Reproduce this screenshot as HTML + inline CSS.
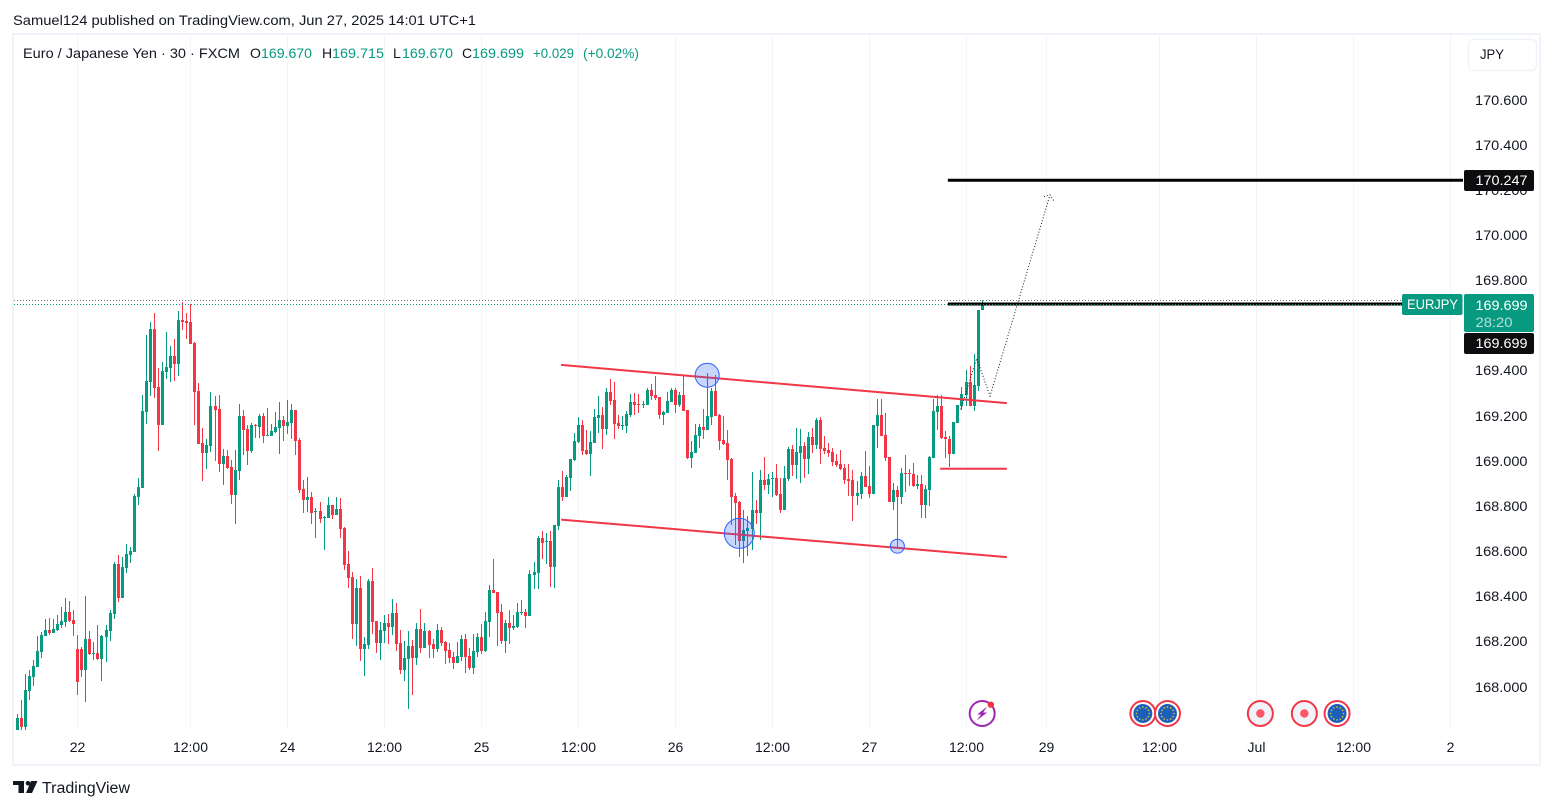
<!DOCTYPE html>
<html lang="en">
<head>
<meta charset="utf-8">
<title>EURJPY 30 chart</title>
<style>
html,body{margin:0;padding:0;background:#fff;width:1553px;height:809px;overflow:hidden}
svg{display:block;font-family:"Liberation Sans",sans-serif}
text{fill:#131722;font-size:14px}
</style>
</head>
<body>
<svg id="chart" xmlns="http://www.w3.org/2000/svg" width="1553" height="809" viewBox="0 0 1553 809">
  <defs><clipPath id="pane-clip"><rect x="14" y="35" width="1436" height="695"/></clipPath></defs>
  <rect x="0" y="0" width="1553" height="809" fill="#ffffff"/>
  <text x="13" y="25" textLength="463" lengthAdjust="spacingAndGlyphs">Samuel124 published on TradingView.com, Jun 27, 2025 14:01 UTC+1</text>
  <rect x="13" y="34" width="1527" height="731" fill="none" stroke="#f0f3fa" stroke-width="2"/>
  <line x1="1450.5" y1="35" x2="1450.5" y2="730" stroke="#f0f3fa" stroke-width="1"/>
  <g id="grid"></g>
  <g id="pane" clip-path="url(#pane-clip)"></g>
  <g id="time-axis"></g>
  <g id="price-axis"></g>
  <g>
    <text x="23" y="58" textLength="217" lengthAdjust="spacingAndGlyphs">Euro / Japanese Yen · 30 · FXCM</text>
    <text x="250" y="58">O</text>
    <text x="261" y="58" textLength="51" lengthAdjust="spacingAndGlyphs" style="fill:#089981">169.670</text>
    <text x="322" y="58">H</text>
    <text x="332" y="58" textLength="52" lengthAdjust="spacingAndGlyphs" style="fill:#089981">169.715</text>
    <text x="393" y="58">L</text>
    <text x="402" y="58" textLength="51" lengthAdjust="spacingAndGlyphs" style="fill:#089981">169.670</text>
    <text x="462" y="58">C</text>
    <text x="472" y="58" textLength="52" lengthAdjust="spacingAndGlyphs" style="fill:#089981">169.699</text>
    <text x="533" y="58" textLength="41" lengthAdjust="spacingAndGlyphs" style="fill:#089981">+0.029</text>
    <text x="583" y="58" textLength="56" lengthAdjust="spacingAndGlyphs" style="fill:#089981">(+0.02%)</text>
  </g>
  <g>
    <rect x="1468.5" y="39.5" width="68" height="31" rx="5" fill="#fff" stroke="#f0f3fa" stroke-width="1.5"/>
    <text x="1480" y="59" textLength="24" lengthAdjust="spacingAndGlyphs">JPY</text>
  </g>
  <g>
    <path d="M13 781H24V793H18.5V785H13ZM31 781H37.5L32 793H26Z" fill="#131722"/>
    <circle cx="28" cy="783.3" r="2.3" fill="#131722"/>
    <text x="42" y="793" textLength="88" lengthAdjust="spacingAndGlyphs" style="font-size:15.5px">TradingView</text>
  </g>
</svg>
<script>
/* 30-minute OHLC values */
const opens = [
167.813,167.866,167.826,167.985,168.047,168.092,168.158,168.229,168.255,168.242,
168.255,168.278,168.291,168.335,168.300,168.171,168.171,168.078,168.216,168.149,
168.154,168.127,168.224,168.251,168.326,168.548,168.397,168.530,168.588,168.601,
168.844,168.884,169.221,169.354,169.588,169.331,169.163,169.398,169.416,169.469,
169.433,169.628,169.624,169.619,169.526,169.314,169.084,169.039,169.070,169.247,
169.234,168.991,169.026,168.977,168.853,168.960,169.203,169.146,169.048,169.163,
169.154,169.203,169.115,169.115,169.132,169.150,169.185,169.159,169.172,169.230,
169.097,168.880,168.831,168.844,168.778,168.782,168.750,168.751,168.809,168.765,
168.791,168.707,168.548,168.490,168.282,168.441,168.171,168.189,168.472,168.295,
168.198,168.251,168.286,168.269,168.331,168.198,168.078,168.127,168.185,168.131,
168.260,168.176,168.251,168.194,168.171,168.255,168.202,168.167,168.136,168.109,
168.136,168.216,168.140,168.087,168.158,168.224,168.163,168.291,168.433,168.424,
168.335,168.207,168.286,168.264,168.269,168.331,168.335,168.317,168.499,168.508,
168.663,168.645,168.650,168.534,168.716,168.889,168.844,168.929,169.008,169.088,
169.163,169.053,169.035,169.084,169.194,169.207,169.146,169.309,169.274,169.172,
169.159,169.159,169.207,169.265,169.256,169.253,169.252,169.318,169.296,169.287,
169.207,169.216,169.265,169.318,169.252,169.296,169.230,169.017,169.039,169.115,
169.154,169.141,169.199,169.314,169.207,169.097,169.084,169.013,168.849,168.822,
168.650,168.694,168.703,168.787,168.774,168.920,168.898,168.924,168.929,168.858,
168.787,168.924,169.057,168.986,169.039,169.070,169.013,169.110,169.075,169.185,
169.061,169.053,169.044,169.004,168.991,168.973,168.924,168.920,168.849,168.858,
168.937,168.893,168.858,169.159,169.207,169.119,169.022,168.822,168.875,168.844,
168.951,168.951,168.946,168.893,168.902,168.809,168.875,169.017,169.221,169.247,
169.110,169.101,169.035,169.172,169.247,169.296,169.354,169.247,169.336,169.670];
const highs = [
167.884,167.946,168.061,168.078,168.123,168.229,168.247,168.304,168.309,168.304,
168.322,168.357,168.397,168.384,168.344,168.233,168.180,168.406,168.251,168.202,
168.278,168.233,168.278,168.344,168.557,168.588,168.579,168.636,168.623,168.858,
168.929,169.296,169.562,169.619,169.659,169.416,169.442,169.575,169.513,169.544,
169.668,169.708,169.659,169.699,169.531,169.349,169.150,169.101,169.309,169.292,
169.296,169.057,169.053,169.008,169.053,169.256,169.230,169.163,169.172,169.168,
169.212,169.216,169.238,169.168,169.221,169.265,169.203,169.274,169.256,169.230,
169.106,168.920,168.933,168.867,168.796,168.822,168.760,168.844,168.809,168.844,
168.840,168.712,168.605,168.512,168.481,168.495,168.224,168.481,168.530,168.295,
168.291,168.322,168.326,168.393,168.375,168.255,168.207,168.251,168.211,168.286,
168.348,168.286,168.255,168.216,168.282,168.269,168.207,168.198,168.158,168.202,
168.233,168.238,168.176,168.238,168.242,168.282,168.335,168.455,168.570,168.424,
168.371,168.300,168.344,168.322,168.375,168.388,168.348,168.521,168.557,168.672,
168.694,168.685,168.694,168.720,168.920,168.960,168.942,169.013,169.128,169.199,
169.185,169.141,169.137,169.234,169.292,169.243,169.327,169.367,169.354,169.207,
169.203,169.225,169.300,169.305,169.300,169.269,169.327,169.345,169.380,169.287,
169.225,169.309,169.327,169.327,169.309,169.380,169.230,169.092,169.168,169.168,
169.234,169.393,169.327,169.385,169.212,169.203,169.141,169.017,168.862,168.827,
168.787,168.760,168.955,168.831,168.964,169.022,168.946,168.955,168.991,168.929,
168.982,169.066,169.075,169.150,169.146,169.088,169.132,169.150,169.194,169.199,
169.115,169.084,169.061,169.035,169.053,168.991,168.991,168.964,168.915,168.955,
169.048,168.982,169.163,169.278,169.278,169.216,169.022,168.906,168.893,168.973,
169.030,168.968,168.995,168.942,168.942,168.898,169.026,169.278,169.296,169.296,
169.137,169.115,169.176,169.252,169.331,169.407,169.424,169.478,169.672,169.715];
const lows = [
167.805,167.810,167.813,167.946,168.005,168.092,168.131,168.229,168.233,168.242,
168.251,168.264,168.269,168.291,168.229,167.968,168.047,167.937,168.145,168.123,
168.123,168.030,168.114,168.207,168.304,168.379,168.397,168.508,168.552,168.601,
168.809,168.884,169.168,169.292,169.283,169.048,169.163,169.367,169.354,169.358,
169.380,169.584,169.544,169.522,169.163,169.079,168.915,168.968,169.044,169.004,
168.955,168.898,168.968,168.813,168.725,168.920,169.030,168.986,169.039,169.106,
169.106,169.084,169.115,169.115,169.128,169.035,169.092,169.123,169.101,169.030,
168.862,168.774,168.778,168.725,168.663,168.729,168.610,168.751,168.747,168.765,
168.663,168.521,168.441,168.216,168.185,168.118,168.052,168.171,168.238,168.154,
168.123,168.198,168.194,168.233,168.163,168.061,168.030,167.906,167.968,168.100,
168.154,168.176,168.131,168.131,168.158,168.185,168.105,168.109,168.083,168.109,
168.118,168.065,168.078,168.061,168.136,168.149,168.158,168.224,168.419,168.185,
168.194,168.154,168.194,168.255,168.264,168.322,168.264,168.317,168.437,168.437,
168.570,168.548,168.446,168.441,168.698,168.827,168.844,168.871,169.004,169.084,
169.030,169.030,168.937,169.084,169.128,169.057,169.119,169.252,169.101,169.146,
169.141,169.128,169.199,169.207,169.216,169.238,169.252,169.274,169.274,169.190,
169.163,169.216,169.265,169.216,169.243,169.225,169.013,168.973,169.039,169.061,
169.101,169.141,169.163,169.203,169.053,169.075,168.920,168.720,168.632,168.579,
168.552,168.583,168.610,168.725,168.654,168.875,168.858,168.844,168.849,168.774,
168.787,168.915,168.937,168.924,168.906,168.929,168.946,169.039,169.057,168.991,
169.035,169.022,168.982,168.977,168.964,168.902,168.849,168.738,168.809,168.836,
168.889,168.840,168.858,169.061,169.115,169.004,168.822,168.787,168.624,168.813,
168.867,168.893,168.889,168.880,168.751,168.751,168.805,169.017,169.141,169.101,
169.017,168.977,169.035,169.172,169.230,169.247,169.247,169.225,169.314,169.670];
const closes = [
167.866,167.826,167.990,168.052,168.096,168.163,168.233,168.255,168.242,168.260,
168.282,168.295,168.335,168.295,168.282,168.025,168.078,168.216,168.149,168.154,
168.127,168.229,168.255,168.331,168.548,168.397,168.534,168.592,168.605,168.849,
168.889,169.225,169.358,169.588,169.327,169.163,169.402,169.420,169.469,169.433,
169.628,169.619,169.615,169.522,169.309,169.079,169.039,169.075,169.247,169.230,
168.991,169.026,168.973,168.853,168.964,169.203,169.141,169.048,169.163,169.159,
169.203,169.115,169.119,169.137,169.154,169.185,169.159,169.176,169.230,169.092,
168.875,168.831,168.844,168.774,168.782,168.747,168.756,168.809,168.765,168.791,
168.703,168.543,168.486,168.282,168.441,168.171,168.194,168.472,168.291,168.198,
168.255,168.286,168.269,168.331,168.194,168.078,168.131,168.185,168.131,168.260,
168.176,168.251,168.189,168.171,168.255,168.198,168.163,168.131,168.109,168.140,
168.216,168.136,168.087,168.163,168.224,168.163,168.295,168.433,168.419,168.331,
168.207,168.286,168.264,168.273,168.335,168.335,168.317,168.503,168.512,168.663,
168.641,168.650,168.534,168.720,168.889,168.844,168.933,169.013,169.092,169.163,
169.048,169.035,169.088,169.199,169.207,169.146,169.309,169.269,169.168,169.159,
169.163,169.212,169.265,169.252,169.253,169.256,169.318,169.292,169.283,169.207,
169.221,169.269,169.318,169.252,169.296,169.225,169.017,169.044,169.119,169.154,
169.141,169.203,169.314,169.203,169.092,169.079,169.008,168.844,168.818,168.650,
168.698,168.707,168.787,168.774,168.920,168.898,168.924,168.929,168.853,168.787,
168.929,169.057,168.986,169.044,169.070,169.013,169.110,169.075,169.185,169.057,
169.048,169.039,168.999,168.986,168.968,168.920,168.915,168.849,168.862,168.937,
168.889,168.858,169.163,169.207,169.115,169.017,168.822,168.875,168.844,168.951,
168.946,168.946,168.893,168.902,168.809,168.880,169.022,169.225,169.247,169.106,
169.101,169.035,169.176,169.252,169.300,169.354,169.247,169.340,169.672,169.699];

/* Axis ticks */
const priceTicks = [170.6,170.4,170.2,170.0,169.8,169.6,169.4,169.2,169.0,168.8,168.6,168.4,168.2,168.0];
const timeTickBars = [15,43,67,91,115,139,163,187,211,235,255,283,307,331,355];
const timeTickLabels = ["22","12:00","24","12:00","25","12:00","26","12:00","27","12:00","29","12:00","Jul","12:00","2"];

/* Levels and drawings, in bar index / price */
const lastPrice = 169.699;
const sessionHigh = 169.715;
const targetLevel = 170.247;
const entryLevel = 169.699;
const levelStartBar = 230.5;
const channelUpper = [[134.7,169.429],[245.1,169.260]];
const channelLower = [[134.7,168.744],[245.1,168.578]];
const supportLine = [[228.6,168.969],[245.1,168.969]];
const touchCircles = [[170.9,169.383,12],[178.85,168.683,15],[218.0,168.626,7]];
const projectionPath = [[233.7,169.232],[237.65,169.458],[240.95,169.291],[255.8,170.182]];
const projectionHead = [[254.3,170.174],[255.8,170.182],[256.8,170.155]];
const eventFlagBars = [278.8,284.9,326.9];
const eventDotBars = [307.9,318.8];
const eventBoltBar = 239;

/* Scales */
const GREEN = '#089981', RED = '#F23645';
const xOf = i => 17.2 + i * 4.0375;
const yOf = p => 100.5 + (170.6 - p) * 225.8;
const NS = 'http://www.w3.org/2000/svg';
function mk(tag, attrs, parent, txt) {
  const n = document.createElementNS(NS, tag);
  for (const k in attrs) n.setAttribute(k, attrs[k]);
  if (txt !== undefined) n.textContent = txt;
  parent.appendChild(n);
  return n;
}
const grid = document.getElementById('grid');
const pane = document.getElementById('pane');
const timeAxis = document.getElementById('time-axis');
const priceAxis = document.getElementById('price-axis');

/* Grid + time labels */
timeTickBars.forEach((b, k) => {
  const col = Math.floor(xOf(b)) + 0.5;
  if (k < timeTickBars.length - 1) {
    const g = mk('line', {x1: col, x2: col, y1: 35, y2: 730, stroke: '#f3f4f6', 'stroke-width': 1}, grid);
    
    
  }
  const t = mk('text', {x: col, y: 752, 'text-anchor': 'middle'}, timeAxis, timeTickLabels[k]);
  
  
});

/* Price labels */
priceTicks.forEach(p => {
  const t = mk('text', {x: 1475, y: Math.round(yOf(p)) + 4, textLength: 52.5, lengthAdjust: 'spacingAndGlyphs'}, priceAxis, p.toFixed(3));
  
  
});

/* Dotted high + last price lines, black levels */
const highRow = Math.floor(yOf(sessionHigh)) + 0.5;
const lastRow = Math.round(yOf(lastPrice)) + 0.5;
const highLine = mk('line', {x1: 14, x2: 1402, y1: highRow, y2: highRow, stroke: '#787b86', 'stroke-width': 1, 'stroke-dasharray': '1 2'}, pane);



const targetY = yOf(targetLevel);
const targetLine = mk('line', {x1: xOf(levelStartBar), x2: 1463, y1: targetY, y2: targetY, stroke: '#000', 'stroke-width': 3}, priceAxis);



const entryY = yOf(entryLevel);
const entryLine = mk('line', {x1: xOf(levelStartBar), x2: 1402, y1: entryY, y2: entryY, stroke: '#000', 'stroke-width': 3}, priceAxis);



const lastLine = mk('line', {x1: 14, x2: 1402, y1: lastRow, y2: lastRow, stroke: GREEN, 'stroke-width': 1, 'stroke-dasharray': '1 2'}, priceAxis);



/* Candles */
closes.forEach((c, i) => {
  const o = opens[i], col = Math.floor(xOf(i));
  const color = c >= o ? GREEN : RED;
  const top = Math.round(yOf(Math.max(o, c)));
  const bot = Math.round(yOf(Math.min(o, c)));
  const hi = Math.round(yOf(highs[i]));
  const lo = Math.round(yOf(lows[i]));
  const g = mk('g', {fill: color, 'shape-rendering': 'crispEdges'}, pane);
  
  
  const wick = mk('rect', {x: col, y: hi, width: 1, height: Math.max(lo - hi, 1)}, g);
  
  
  const body = mk('rect', {x: col - 1, y: top, width: 3, height: Math.max(bot - top, 1)}, g);
  
  
});

/* Red channel and support lines */
[[channelUpper, 'channel-upper-line'], [channelLower, 'channel-lower-line'], [supportLine, 'support-line']].forEach(pair => {
  const pts = pair[0];
  const l = mk('line', {x1: xOf(pts[0][0]), y1: yOf(pts[0][1]), x2: xOf(pts[1][0]), y2: yOf(pts[1][1]), stroke: RED, 'stroke-width': 2}, pane);
  
  
});

/* Blue touch circles */
touchCircles.forEach(c => {
  const e = mk('circle', {cx: xOf(c[0]), cy: yOf(c[1]), r: c[2], fill: 'rgba(41,98,255,0.26)', stroke: '#2962ff', 'stroke-width': 1}, pane);
  
  
});

/* Dotted projection */
const toPts = a => a.map(p => xOf(p[0]) + ',' + yOf(p[1])).join(' ');
const proj = mk('polyline', {points: toPts(projectionPath), fill: 'none', stroke: '#131722', 'stroke-width': 1, 'stroke-dasharray': '1 2'}, pane);


const head = mk('polyline', {points: toPts(projectionHead), fill: 'none', stroke: '#131722', 'stroke-width': 1, 'stroke-dasharray': '1 2'}, pane);



/* Event markers */
const markerY = 713.5;
eventFlagBars.forEach(b => {
  const cx = xOf(b);
  const g = mk('g', {}, pane);
  
  
  mk('circle', {cx: cx, cy: markerY, r: 12.5, fill: '#fff', stroke: '#f23645', 'stroke-width': 2}, g);
  mk('circle', {cx: cx, cy: markerY, r: 9.5, fill: '#1c5fb8'}, g);
  for (let k = 0; k < 12; k++) {
    const a = k * Math.PI / 6;
    mk('circle', {cx: cx + 6.4 * Math.cos(a), cy: markerY + 6.4 * Math.sin(a), r: 0.8, fill: '#e7c93a'}, g);
  }
});
eventDotBars.forEach(b => {
  const cx = xOf(b);
  const g = mk('g', {}, pane);
  
  
  mk('circle', {cx: cx, cy: markerY, r: 12.5, fill: '#f0f3fa', stroke: '#f23645', 'stroke-width': 2}, g);
  mk('circle', {cx: cx, cy: markerY, r: 4.2, fill: '#ff5566'}, g);
});
const boltX = xOf(eventBoltBar);
const bolt = mk('g', {}, pane);


mk('circle', {cx: boltX, cy: markerY, r: 12.5, fill: '#fff', stroke: '#9c27b0', 'stroke-width': 2}, bolt);
mk('path', {d: 'M' + (boltX + 5) + ' ' + (markerY - 7) + 'l-10 8h4l-4.5 6 10.5 -8h-4z', fill: '#9c27b0'}, bolt);
mk('circle', {cx: boltX + 8.7, cy: markerY - 8.8, r: 3.2, fill: '#f23645'}, bolt);

/* Price-axis badges */
function badge(x, y, w, h, color, label, lx, ly, llen) {
  const g = mk('g', {}, priceAxis);
  mk('rect', {x: x, y: y, width: w, height: h, rx: 2, fill: color}, g);
  mk('text', {x: lx, y: ly, textLength: llen, lengthAdjust: 'spacingAndGlyphs', style: 'fill:#fff'}, g, label);
  return g;
}
const targetBadge = badge(1464, 170, 70, 21, '#0d0d0f', targetLevel.toFixed(3), 1475.5, 185, 52);


const lastBadge = badge(1464, 294, 70, 38, GREEN, lastPrice.toFixed(3), 1475.5, 310, 52);


const countdown = mk('text', {x: 1475.5, y: 327, textLength: 37, lengthAdjust: 'spacingAndGlyphs', style: 'fill:#fff;fill-opacity:.7'}, lastBadge, '28:20');


const entryBadge = badge(1464, 333, 70, 21, '#0d0d0f', entryLevel.toFixed(3), 1475.5, 348, 52);


const symbolBadge = badge(1402, 294, 60.5, 21, GREEN, 'EURJPY', 1407, 309, 51);


</script>
</body>
</html>
